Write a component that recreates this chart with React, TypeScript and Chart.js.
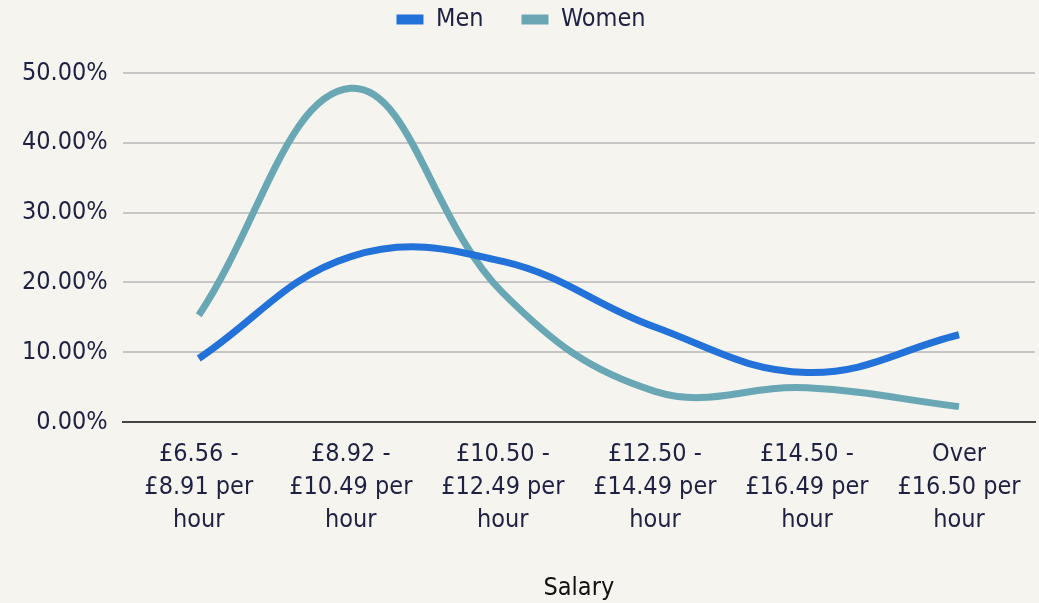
import React, { useEffect, useRef } from "react";
import { Chart, registerables } from "chart.js";

Chart.register(...registerables);

const categories: string[][] = [
  ["£6.56 -", "£8.91 per", "hour"],
  ["£8.92 -", "£10.49 per", "hour"],
  ["£10.50 -", "£12.49 per", "hour"],
  ["£12.50 -", "£14.49 per", "hour"],
  ["£14.50 -", "£16.49 per", "hour"],
  ["Over", "£16.50 per", "hour"],
];
const menValues = [9.1, 23.7, 23.0, 13.6, 7.1, 12.5];
const womenValues = [15.3, 47.8, 18.5, 4.4, 4.9, 2.2];
const yTicks = [0, 10, 20, 30, 40, 50];

const FONT = "'DejaVu Sans Condensed', 'DejaVu Sans', Verdana, sans-serif";
const TEXT = "#1e2142";
const BG = "#f5f4ef";

export default function App() {
  const ref = useRef<HTMLCanvasElement | null>(null);
  useEffect(() => {
    document.body.style.margin = "0";
    document.body.style.background = BG;
    const bgPlugin = {
      id: "bg",
      beforeDraw(chart: any) {
        const { ctx, width, height } = chart;
        ctx.save();
        ctx.fillStyle = BG;
        ctx.fillRect(0, 0, width, height);
        ctx.restore();
      },
    };
    const legendSpacing = {
      id: "legendSpacing",
      beforeInit(chart: any) {
        const lg = chart.legend;
        if (!lg) return;
        const orig = lg.fit;
        lg.fit = function () {
          orig.call(this);
          this.height = 73;
        };
      },
      afterLayout(chart: any) {
        const lg = chart.legend;
        if (!lg) return;
        lg.top -= 31;
        lg.bottom -= 31;
      },
    };
    const chart = new Chart(ref.current!, {
      type: "line",
      data: {
        labels: categories,
        datasets: [
          {
            label: "Men",
            data: menValues,
            borderColor: "#2272d9",
            backgroundColor: "#2272d9",
            borderWidth: 7,
            pointRadius: 0,
            tension: 0.4,
          },
          {
            label: "Women",
            data: womenValues,
            borderColor: "#69a7b4",
            backgroundColor: "#69a7b4",
            borderWidth: 7,
            pointRadius: 0,
            tension: 0.4,
          },
        ],
      },
      options: {
        animation: false,
        responsive: false,
        layout: { padding: { left: 7, right: 4, top: 0, bottom: 0 } },
        plugins: {
          legend: {
            position: "top",
            labels: {
              font: { family: FONT, size: 25 },
              color: TEXT,
              boxWidth: 27,
              boxHeight: 10,
              padding: 38,
              generateLabels: (c: any) =>
                Chart.defaults.plugins.legend.labels
                  .generateLabels(c)
                  .map((l: any) => ({ ...l, lineWidth: 0 })),
            },
          },
          tooltip: { enabled: false },
        },
        scales: {
          x: {
            offset: true,
            grid: { display: false, drawTicks: false },
            border: { display: true, color: "#444444", width: 2 },
            ticks: {
              color: TEXT,
              font: { family: FONT, size: 25, lineHeight: 1.32 },
              maxRotation: 0,
              autoSkip: false,
              padding: 16,
            },
            title: {
              display: true,
              text: "Salary",
              color: "#111",
              font: { family: FONT, size: 25 },
              padding: { top: 20, bottom: 0 },
            },
          },
          y: {
            min: 0,
            max: 50,
            afterBuildTicks: (axis: any) => {
              axis.ticks = yTicks.map((v) => ({ value: v }));
            },
            grid: { color: "#c6c6c6", lineWidth: 2, drawTicks: false },
            border: { display: false },
            ticks: {
              color: TEXT,
              font: { family: FONT, size: 25 },
              padding: 15,
              callback: (v: any) => Number(v).toFixed(2) + "%",
            },
          },
        },
      },
      plugins: [bgPlugin, legendSpacing],
    });
    return () => chart.destroy();
  }, []);
  return <canvas ref={ref} width={1039} height={603} style={{ display: "block" }} />;
}
